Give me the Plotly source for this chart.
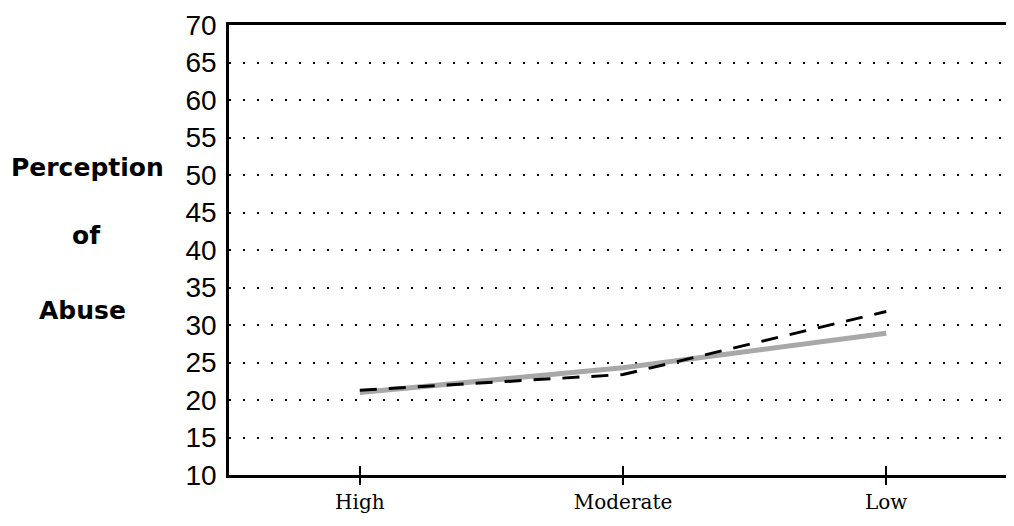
import plotly.graph_objects as go

categories = ["High", "Moderate", "Low"]
series_dashed = [21.3, 23.4, 31.8]
series_gray = [21.0, 24.3, 28.9]
y_ticks = [10, 15, 20, 25, 30, 35, 40, 45, 50, 55, 60, 65, 70]

W, H = 998, 510
L, T, B = 221, 17, 43

fig = go.Figure()
fig.add_trace(go.Scatter(x=categories, y=series_gray, mode="lines",
                         line=dict(color="#a8a8a8", width=5), showlegend=False))
fig.add_trace(go.Scatter(x=categories, y=series_dashed, mode="lines",
                         line=dict(color="black", width=3, dash="17px,12px"), showlegend=False))

fig.update_layout(
    width=W, height=H,
    margin=dict(l=L, r=0, t=T, b=B),
    paper_bgcolor="white", plot_bgcolor="white",
    xaxis=dict(type="category", categoryorder="array", categoryarray=categories,
               range=[-0.497, 2.455], showline=True, linecolor="black", linewidth=2.5,
               mirror=True, showgrid=False, zeroline=False, automargin=False,
               ticks="outside", ticklen=7, tickwidth=1.5, tickcolor="black",
               tickfont=dict(family="DejaVu Serif", size=20, color="black"),
               ticklabelstandoff=0),
    xaxis2=dict(overlaying="x", matches="x", type="category", showline=False,
                showgrid=False, zeroline=False, ticks="inside", ticklen=9,
                tickwidth=1.5, tickcolor="black", showticklabels=False,
                side="bottom", automargin=False),
    yaxis=dict(range=[10, 70], tickvals=y_ticks, showline=True, linecolor="black",
               linewidth=2.5, showgrid=True, gridcolor="black", gridwidth=2,
               griddash="2px,12px", zeroline=False, ticks="", automargin=False,
               tickfont=dict(family="Liberation Sans", size=28, color="black"),
               ticklabelstandoff=4),
)
fig.add_trace(go.Scatter(x=categories, y=[None, None, None], xaxis="x2",
                         showlegend=False, hoverinfo="skip"))

plot_w = W - L
plot_h = H - T - B
for txt, xx, yy in [("Perception", 79, 160), ("of", 78, 227), ("Abuse", 74, 302)]:
    fig.add_annotation(text="<b>%s</b>" % txt, xref="paper", yref="paper",
                       x=(xx - L) / plot_w, y=1 - (yy - T) / plot_h,
                       showarrow=False, xanchor="center", yanchor="middle",
                       font=dict(family="DejaVu Sans", size=25, color="black"))

fig.write_html("out.html")
